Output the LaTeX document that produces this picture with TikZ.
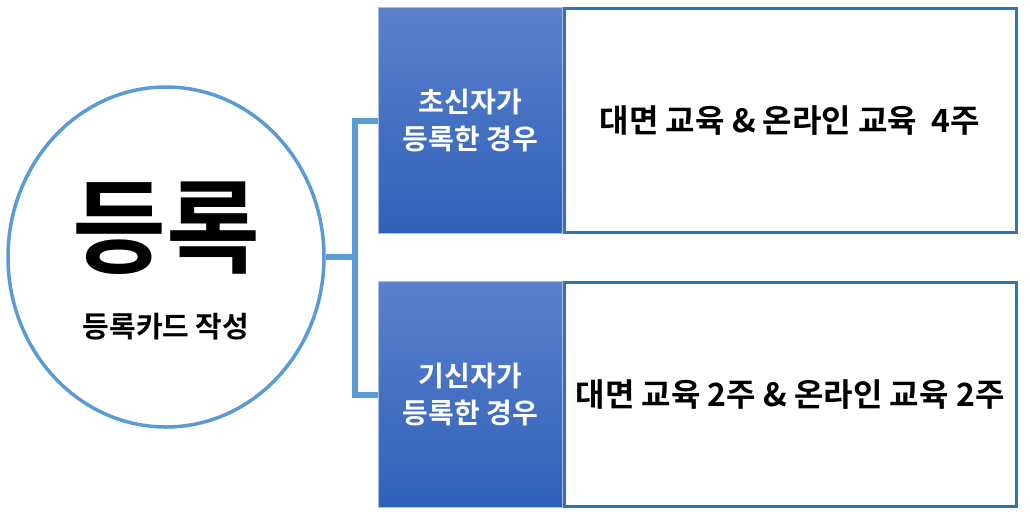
\documentclass[tikz,border=0pt]{standalone}
\usepackage{fontspec}
\setmainfont{Noto Sans CJK KR}
\newfontfamily\krb{Noto Sans CJK KR Bold}
\usetikzlibrary{shapes.geometric}
\definecolor{lineblue}{HTML}{5B9BD5}
\definecolor{edgeblue}{HTML}{2E75B6}
\definecolor{gradtop}{HTML}{5B80CC}
\definecolor{gradbot}{HTML}{2F61B9}
\definecolor{paleedge}{HTML}{A9BDE6}
\tikzset{
  conn/.style={draw=lineblue, line width=6pt},
  regcircle/.style={ellipse, draw=lineblue, line width=3.5pt, fill=white, minimum width=316pt, minimum height=340pt, inner sep=0pt},
  casebox/.style={rectangle, draw=paleedge, line width=1pt, top color=gradtop, bottom color=gradbot, minimum width=184pt, minimum height=226pt, inner sep=0pt, text=white, align=center, font=\krb\fontsize{28}{37}\selectfont},
  contentbox/.style={rectangle, draw=edgeblue, line width=3pt, fill=white, minimum width=452pt, minimum height=224pt, inner sep=0pt, align=center, font=\krb\fontsize{32}{36}\selectfont},
}
\begin{document}
\begin{tikzpicture}[x=1pt,y=-1pt]
\useasboundingbox (0,0) rectangle (1030,515);
\node[regcircle] (reg) at (166,257) {};
\node[font=\krb\fontsize{102}{102}\selectfont] (big) at (166,228) {등록};
\node[font=\krb\fontsize{29}{32}\selectfont] (sub) at (166,327) {등록카드 작성};
\node[casebox] (c1) at (470.5,120.5) {초신자가\\등록한 경우};
\node[casebox] (c2) at (470.5,394.5) {기신자가\\등록한 경우};
\node[contentbox] (d1) at (790,120.5) {대면 교육 \& 온라인 교육~~4주};
\node[contentbox] (d2) at (790,394.5) {대면 교육 2주 \& 온라인 교육 2주};
\coordinate (j) at (355,257);
\draw[conn] (c1.west) -| (j) |- (c2.west);
\draw[conn] (reg.east) -- (j);
\end{tikzpicture}
\end{document}
